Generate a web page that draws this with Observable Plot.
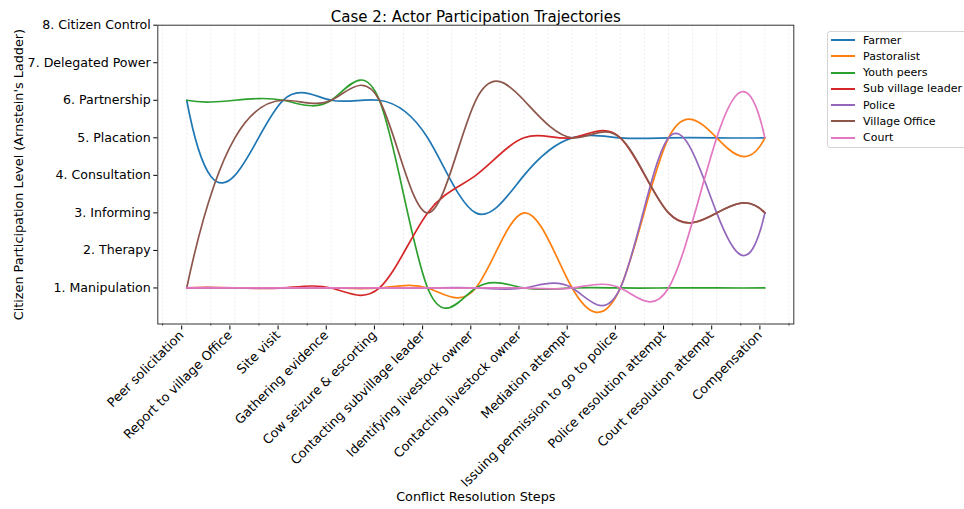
<!DOCTYPE html>
<html>
<head>
<meta charset="utf-8">
<script src="https://cdn.jsdelivr.net/npm/d3@7"></script>
<script src="https://cdn.jsdelivr.net/npm/@observablehq/plot@0.6"></script>
<style>
html, body { margin: 0; padding: 0; background: #fff; }
#wrap { position: relative; width: 964px; height: 509px; overflow: hidden; font-family: "DejaVu Sans", sans-serif; }
#wrap svg { position: absolute; left: 0; top: 0; }
#legend { position: absolute; left: 827px; top: 31px; width: 165px; height: 117px; border: 1px solid #d4d4d4; border-radius: 3px; background: #fff; box-sizing: border-box; }
.item { height: 16px; margin-bottom: 0.3px; display: flex; align-items: center; font-size: 11px; white-space: nowrap; color: #000; }
.item .sw { display: inline-block; flex: none; width: 24px; height: 2px; margin-left: 3px; margin-right: 8px; }
</style>
</head>
<body>
<div id="wrap"><div id="legend"></div></div>
<script>
// ---- data ----
const steps = [
  "Peer solicitation",
  "Report to village Office",
  "Site visit",
  "Gathering evidence",
  "Cow seizure & escorting",
  "Contacting subvillage leader",
  "Identifying livestock owner",
  "Contacting livestock owner",
  "Mediation attempt",
  "Issuing permission to go to police",
  "Police resolution attempt",
  "Court resolution attempt",
  "Compensation"
];
const levelLabels = [
  "1. Manipulation",
  "2. Therapy",
  "3. Informing",
  "4. Consultation",
  "5. Placation",
  "6. Partnership",
  "7. Delegated Power",
  "8. Citizen Control"
];
const levelValues = [1, 2, 3, 4, 5, 6, 7, 8];
const actors = ["Farmer", "Pastoralist", "Youth peers", "Sub village leader", "Police", "Village Office", "Court"];
const actorColors = ["#1f77b4", "#ff7f0e", "#2ca02c", "#d62728", "#9467bd", "#8c564b", "#e377c2"];

const farmer           = [6, 4, 6, 6, 6, 5, 3, 4, 5, 5, 5, 5, 5];
const pastoralist      = [1, 1, 1, 1, 1, 1, 1, 3, 1, 1, 5, 5, 5];
const youthPeers       = [6, 6, 6, 6, 6, 1, 1, 1, 1, 1, 1, 1, 1];
const subVillageLeader = [1, 1, 1, 1, 1, 3, 4, 5, 5, 5, 3, 3, 3];
const police           = [1, 1, 1, 1, 1, 1, 1, 1, 1, 1, 5, 3, 3];
const villageOffice    = [1, 5, 6, 6, 6, 3, 6, 6, 5, 5, 3, 3, 3];
const court            = [1, 1, 1, 1, 1, 1, 1, 1, 1, 1, 1, 5, 5];

const title = "Case 2: Actor Participation Trajectories";
const xTitle = "Conflict Resolution Steps";
const yTitle = "Citizen Participation Level (Arnstein's Ladder)";

// ---- table for Plot ----
const seriesValues = [farmer, pastoralist, youthPeers, subVillageLeader, police, villageOffice, court];
const rows = actors.flatMap((a, k) => seriesValues[k].map((v, i) => ({actor: a, step: i, level: v})));
const stepIdx = steps.map((_, i) => i);
const minorTicks = d3.range(-0.5, steps.length, 1);
const gridTicks = d3.range(-0.5, steps.length, 0.5);

// ---- not-a-knot cubic spline curve (as a d3 curve factory) ----
function NotAKnot(context) { this._context = context; }
NotAKnot.prototype = {
  areaStart() { this._line = 0; },
  areaEnd() { this._line = NaN; },
  lineStart() { this._x = []; this._y = []; },
  point(x, y) { this._x.push(+x); this._y.push(+y); },
  lineEnd() {
    const x = this._x, y = this._y, n = x.length, c = this._context;
    if (n) {
      if (this._line) c.lineTo(x[0], y[0]); else c.moveTo(x[0], y[0]);
      if (n === 2) c.lineTo(x[1], y[1]);
      else if (n >= 3) {
        const m = slopes(x, y);
        for (let i = 0; i < n - 1; i++) {
          const h = x[i + 1] - x[i];
          c.bezierCurveTo(x[i] + h / 3, y[i] + m[i] * h / 3, x[i + 1] - h / 3, y[i + 1] - m[i + 1] * h / 3, x[i + 1], y[i + 1]);
        }
      }
    }
    if (this._line || (this._line !== 0 && n === 1)) c.closePath();
    this._line = 1 - this._line;
    this._x = this._y = null;
  }
};
function slopes(x, y) {
  const n = x.length;
  const h = [], d = [];
  for (let i = 0; i < n - 1; i++) { h.push(x[i + 1] - x[i]); d.push((y[i + 1] - y[i]) / h[i]); }
  if (n === 3) {
    const a = (d[1] - d[0]) / (x[2] - x[0]);
    return [d[0] - a * h[0], d[0] + a * h[0], d[1] + a * h[1]];
  }
  const A = Array.from({length: n}, () => new Array(n).fill(0));
  const b = new Array(n).fill(0);
  A[0][0] = h[1]; A[0][1] = -(h[0] + h[1]); A[0][2] = h[0];
  for (let i = 1; i < n - 1; i++) {
    A[i][i - 1] = h[i - 1]; A[i][i] = 2 * (h[i - 1] + h[i]); A[i][i + 1] = h[i];
    b[i] = 6 * (d[i] - d[i - 1]);
  }
  A[n - 1][n - 3] = h[n - 2]; A[n - 1][n - 2] = -(h[n - 3] + h[n - 2]); A[n - 1][n - 1] = h[n - 3];
  for (let col = 0; col < n; col++) {
    let p = col;
    for (let r = col + 1; r < n; r++) if (Math.abs(A[r][col]) > Math.abs(A[p][col])) p = r;
    [A[col], A[p]] = [A[p], A[col]]; [b[col], b[p]] = [b[p], b[col]];
    for (let r = col + 1; r < n; r++) {
      const f = A[r][col] / A[col][col];
      if (!f) continue;
      for (let k = col; k < n; k++) A[r][k] -= f * A[col][k];
      b[r] -= f * b[col];
    }
  }
  const M = new Array(n).fill(0);
  for (let r = n - 1; r >= 0; r--) {
    let s = b[r];
    for (let k = r + 1; k < n; k++) s -= A[r][k] * M[k];
    M[r] = s / A[r][r];
  }
  const m = [];
  for (let i = 0; i < n - 1; i++) m.push(d[i] - h[i] * (2 * M[i] + M[i + 1]) / 6);
  m.push(d[n - 2] + h[n - 2] * (M[n - 2] + 2 * M[n - 1]) / 6);
  return m;
}
const curveNotAKnot = (context) => new NotAKnot(context);

// ---- chart ----
const chart = Plot.plot({
  width: 964,
  height: 509,
  marginLeft: 157.3,
  marginRight: 170.7,
  marginTop: 24.7,
  marginBottom: 185.5,
  style: {fontFamily: "DejaVu Sans", fontSize: "13px", color: "#000", background: "transparent", overflow: "visible"},
  x: {domain: [-0.6, 12.6], label: null},
  y: {domain: [0.04, 8], label: null},
  color: {type: "ordinal", domain: actors, range: actorColors},
  marks: [
    Plot.gridX(gridTicks, {stroke: "#b0b0b0", strokeOpacity: 0.3, strokeDasharray: "2,2", strokeWidth: 0.8}),
    Plot.line(rows, {x: "step", y: "level", z: "actor", stroke: "actor", curve: curveNotAKnot, strokeWidth: 1.7}),
    Plot.frame({stroke: "#333", strokeWidth: 1}),
    Plot.axisY(levelValues, {tickFormat: (v) => levelLabels[v - 1], tickSize: 4, tickPadding: 3, fontSize: 12.6, label: null}),
    Plot.axisX(stepIdx, {tickFormat: (i) => steps[i], tickRotate: -45, tickSize: 4, tickPadding: 3, fontSize: 12.8, dx: -5, dy: 2, label: null}),
    Plot.axisX(minorTicks, {tickFormat: () => "", tickSize: 2, strokeWidth: 0.7, label: null}),
    Plot.text([title], {text: (d) => d, frameAnchor: "top", dy: -14, fontSize: 15}),
    Plot.text([xTitle], {text: (d) => d, frameAnchor: "bottom", dy: 177, fontSize: 12.8}),
    Plot.text([yTitle], {text: (d) => d, frameAnchor: "left", textAnchor: "middle", dx: -139.3, rotate: -90, fontSize: 12.8})
  ]
});
document.getElementById("wrap").prepend(chart);

// ---- legend ----
const legend = document.getElementById("legend");
actors.forEach((a, k) => {
  const item = document.createElement("div");
  item.className = "item";
  const sw = document.createElement("span");
  sw.className = "sw";
  sw.style.background = actorColors[k];
  const label = document.createElement("span");
  label.textContent = a;
  item.append(sw, label);
  legend.append(item);
});
</script>
</body>
</html>
